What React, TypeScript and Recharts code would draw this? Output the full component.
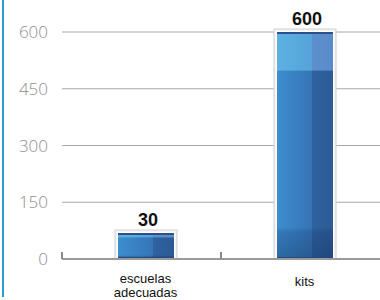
import React from 'react'
import { BarChart, Bar, XAxis, YAxis, CartesianGrid, LabelList } from 'recharts'

const categories = ['escuelas adecuadas', 'kits']
const values = [30, 600]
const yTicks = [0, 150, 300, 450, 600]

const data = categories.map((name, i) => ({ name, value: values[i] }))

// bars and labels sit a little right of the band centres in the original
const SHIFT = 4
const HALF_BAND = 79.5

function GlossyBar(props: any) {
  const { x, y, width, height } = props
  if (!height) return null
  const bx = x + SHIFT
  const topH = height * 0.17
  return (
    <g>
      <rect x={bx - 3} y={y - 3} width={width + 6} height={height + 3} fill="#f4f4f4" stroke="#cfcfcf" strokeWidth={1} />
      <rect x={bx - 1} y={y - 1} width={width + 2} height={height + 1} fill="#ffffff" />
      <rect x={bx} y={y} width={width} height={height} fill="url(#bodyGrad)" />
      <rect x={bx} y={y} width={width} height={topH} fill="url(#topGrad)" />
      <rect x={bx} y={y} width={width} height={height} fill="url(#shadeGrad)" />
      <rect x={bx} y={y} width={width} height={2} fill="#2b4f86" />
      <rect x={bx} y={y + height - 2} width={width} height={2} fill="#234a82" />
    </g>
  )
}

function ValueLabel(props: any) {
  const { x, y, width, value } = props
  return (
    <text
      x={x + width / 2 + SHIFT + 2}
      y={y - 7}
      textAnchor="middle"
      fontFamily="'Liberation Sans', Arial, sans-serif"
      fontWeight="bold"
      fontSize={18}
      fill="#111"
    >
      {value}
    </text>
  )
}

function CategoryTick(props: any) {
  const { x, y, payload } = props
  const words = String(payload.value).split(' ')
  const first = words.length > 1 ? 24 : 27
  return (
    <g>
      <line x1={x - HALF_BAND} x2={x - HALF_BAND} y1={y - 7} y2={y} stroke="#8a8a8a" strokeWidth={2} />
      {words.map((w, i) => (
        <text
          key={w}
          x={x + SHIFT}
          y={y + first + i * 14}
          textAnchor="middle"
          fontFamily="'Liberation Sans', Arial, sans-serif"
          fontSize={13}
          fill="#111"
        >
          {w}
        </text>
      ))}
    </g>
  )
}

export default function App() {
  return (
    <div
      style={{
        position: 'fixed',
        left: 0,
        top: 0,
        width: 380,
        height: 300,
        background: '#fff',
        overflow: 'hidden',
      }}
    >
      <div
        style={{
          position: 'absolute',
          left: 2,
          top: 0,
          width: 2,
          height: 297,
          background: '#2a9fd8',
        }}
      />
      <BarChart width={380} height={300} data={data} margin={{ top: 32, right: 0, left: 0, bottom: 0 }}>
        <defs>
          <linearGradient id="bodyGrad" x1="0" y1="0" x2="1" y2="0">
            <stop offset="0" stopColor="#3c8ecf" />
            <stop offset="0.63" stopColor="#3674b6" />
            <stop offset="0.63" stopColor="#2f62a0" />
            <stop offset="1" stopColor="#2c5a95" />
          </linearGradient>
          <linearGradient id="topGrad" x1="0" y1="0" x2="1" y2="0">
            <stop offset="0" stopColor="#5db2e2" />
            <stop offset="0.63" stopColor="#55a2d8" />
            <stop offset="0.63" stopColor="#5b90cc" />
            <stop offset="1" stopColor="#5a8bc9" />
          </linearGradient>
          <linearGradient id="shadeGrad" x1="0" y1="0" x2="0" y2="1">
            <stop offset="0" stopColor="#0b2550" stopOpacity={0} />
            <stop offset="0.86" stopColor="#0b2550" stopOpacity={0} />
            <stop offset="0.88" stopColor="#0b2550" stopOpacity={0.18} />
            <stop offset="1" stopColor="#0b2550" stopOpacity={0.35} />
          </linearGradient>
        </defs>
        <CartesianGrid vertical={false} stroke="#a8a8a8" />
        <XAxis
          dataKey="name"
          height={41}
          axisLine={{ stroke: '#9a9a9a', strokeWidth: 2 }}
          tickLine={false}
          tickSize={0}
          tickMargin={0}
          interval={0}
          tick={<CategoryTick />}
        />
        <YAxis
          width={62}
          domain={[0, 600]}
          ticks={yTicks}
          axisLine={false}
          tickLine={false}
          tickSize={0}
          tickMargin={14}
          tick={{ fill: '#8e8e8e', fontSize: 17, fontFamily: "'Open Sans', sans-serif", fontWeight: 300 }}
        />
        <Bar dataKey="value" barSize={56} minPointSize={26} shape={<GlossyBar />} isAnimationActive={false}>
          <LabelList dataKey="value" content={<ValueLabel />} />
        </Bar>
      </BarChart>
    </div>
  )
}
